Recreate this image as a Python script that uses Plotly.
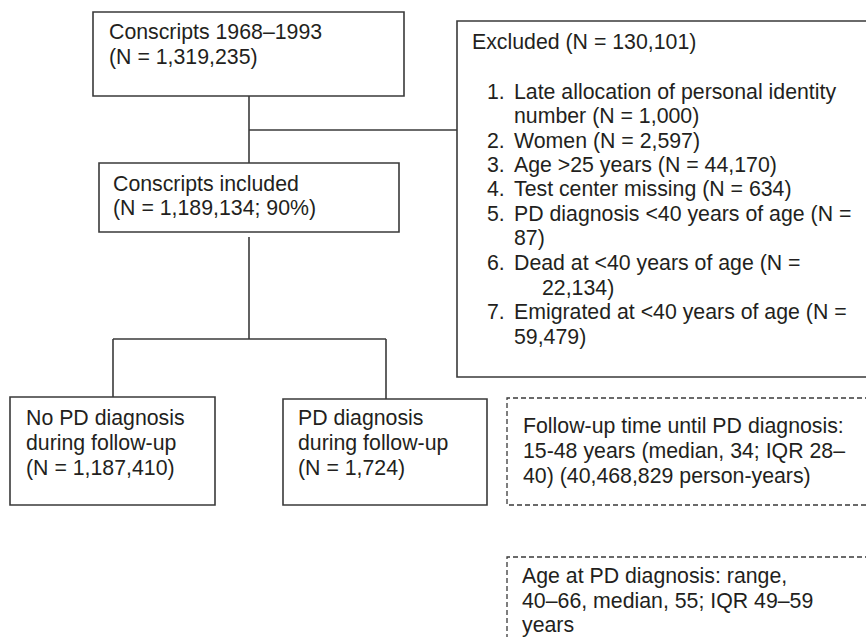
import plotly.graph_objects as go

# ---------------- data (texts) ----------------
top_box_lines = ["Conscripts 1968–1993", "(N = 1,319,235)"]
included_box_lines = ["Conscripts included", "(N = 1,189,134; 90%)"]
excluded_title = "Excluded (N = 130,101)"
excluded_numbers = ["1.", "", "2.", "3.", "4.", "5.", "", "6.", "", "7.", ""]
excluded_lines = [
    "Late allocation of personal identity",
    "number (N = 1,000)",
    "Women (N = 2,597)",
    "Age >25 years (N = 44,170)",
    "Test center missing (N = 634)",
    "PD diagnosis <40 years of age (N =",
    "87)",
    "Dead at <40 years of age (N =",
    "22,134)",
    "Emigrated at <40 years of age (N =",
    "59,479)",
]
no_pd_lines = ["No PD diagnosis", "during follow-up", "(N = 1,187,410)"]
pd_lines = ["PD diagnosis", "during follow-up", "(N = 1,724)"]
followup_lines = ["Follow-up time until PD diagnosis:",
                  "15-48 years (median, 34; IQR 28–",
                  "40) (40,468,829 person-years)"]
age_lines = ["Age at PD diagnosis: range,",
             "40–66, median, 55; IQR 49–59",
             "years"]

# ---------------- layout (page-pixel positions) ----------------
W, H = 866, 637
FS = 21.3
FONT = "Liberation Sans, Arial, sans-serif"
TXT = "#231f20"
LINE = "#3a3a3a"
LW = 1.6

closed_boxes = [  # x0, y0, x1, y1
    (93, 12, 404, 96),
    (99, 163, 399, 232),
    (10, 397, 215, 505),
    (283, 399, 487, 505),
]
open_boxes = [  # boxes running off the right edge: x0, y0, y1, dashed
    (457, 21, 377, False),
    (507, 398, 505, True),
    (507, 557, 660, True),
]
connectors = [  # x0, y0, x1, y1
    (249, 96, 249, 163),
    (249, 130, 457, 130),
    (249, 237, 249, 339),
    (113, 339, 386, 339),
    (113, 339, 113, 397),
    (386, 339, 386, 399),
]

text_blocks = [  # lines, x, baselines
    (top_box_lines, 109, [39, 64]),
    (included_box_lines, 113, [191, 215]),
    ([excluded_title], 472, [49]),
    (no_pd_lines, 26, [425, 450, 475]),
    (pd_lines, 298, [425, 450, 475]),
    (followup_lines, 523, [433, 458, 483]),
    (age_lines, 522, [583, 608, 632]),
]
excl_num_x = 487
excl_text_x = [514, 514, 514, 514, 514, 514, 514, 514, 542, 514, 514]
excl_baselines = [99, 123, 148, 172, 196, 221, 245, 270, 295, 319, 344]


def esc(s):
    return s.replace("&", "&amp;").replace("<", "&lt;").replace(">", "&gt;")


def ann(text, x, baseline):
    return dict(x=x, y=baseline - 0.35 * FS, text=esc(text), showarrow=False,
                xref="x", yref="y", xanchor="left", yanchor="middle",
                borderpad=0, borderwidth=0,
                font=dict(family=FONT, size=FS, color=TXT))


shapes = []
for (x0, y0, x1, y1) in closed_boxes:
    shapes.append(dict(type="rect", xref="x", yref="y", x0=x0, y0=y0, x1=x1, y1=y1,
                       line=dict(color=LINE, width=LW), fillcolor="rgba(0,0,0,0)"))
for (x0, y0, y1, dashed) in open_boxes:
    ln = dict(color=LINE, width=1.3, dash="5px,3px") if dashed else dict(color=LINE, width=LW)
    shapes.append(dict(type="path", xref="x", yref="y",
                       path=f"M {W + 20},{y0} L {x0},{y0} L {x0},{y1} L {W + 20},{y1}",
                       line=ln, fillcolor="rgba(0,0,0,0)"))
for (x0, y0, x1, y1) in connectors:
    shapes.append(dict(type="line", xref="x", yref="y", x0=x0, y0=y0, x1=x1, y1=y1,
                       line=dict(color=LINE, width=LW)))

annotations = []
for lines, x, bls in text_blocks:
    for t, b in zip(lines, bls):
        annotations.append(ann(t, x, b))
for num, t, tx, b in zip(excluded_numbers, excluded_lines, excl_text_x, excl_baselines):
    if num:
        annotations.append(ann(num, excl_num_x, b))
    annotations.append(ann(t, tx, b))

fig = go.Figure()
fig.update_layout(
    width=W, height=H,
    margin=dict(l=0, r=0, t=0, b=0),
    paper_bgcolor="white", plot_bgcolor="white",
    xaxis=dict(range=[0, W], visible=False, fixedrange=True),
    yaxis=dict(range=[H, 0], visible=False, fixedrange=True),
    shapes=shapes,
    annotations=annotations,
    showlegend=False,
    hovermode=False,
)
fig.write_html(
    "out.html",
    config={"displayModeBar": False, "staticPlot": True},
    post_script="document.body.style.margin='0';document.body.style.overflow='hidden';",
)
